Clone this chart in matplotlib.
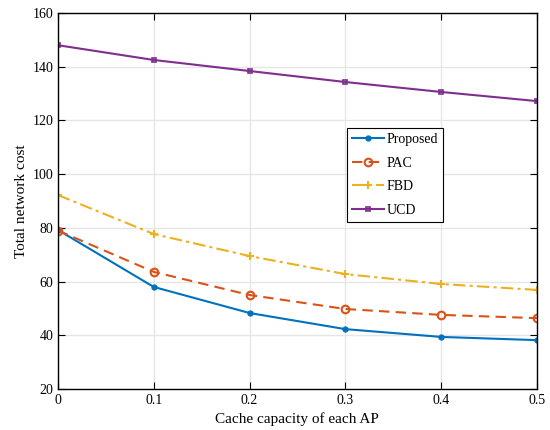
import matplotlib.pyplot as plt

plt.rcParams['font.family'] = ['Liberation Serif', 'DejaVu Serif']
plt.rcParams['mathtext.fontset'] = 'stix'

# Data
cache = [0, 0.1, 0.2, 0.3, 0.4, 0.5]
proposed = [79.2, 58.0, 48.3, 42.3, 39.4, 38.2]
pac = [79.0, 63.6, 55.0, 49.8, 47.6, 46.4]
fbd = [92.2, 77.7, 69.5, 62.8, 59.1, 56.9]
ucd = [148.0, 142.5, 138.4, 134.3, 130.6, 127.2]

fig = plt.figure(figsize=(5.5, 4.3), dpi=100)
ax = fig.add_axes([0.1055, 0.0953, 0.8705, 0.8745])

ax.plot(cache, proposed, color='#0072BD', lw=1.5, marker='o', ms=3.5,
        label='Proposed')
ax.plot(cache, pac, color='#D95319', lw=1.5, ls=(0, (5, 3)), marker='o', ms=5.5,
        mfc='none', mew=1.5, label='PAC')
ax.plot(cache, fbd, color='#EDB120', lw=1.5, ls=(0, (6, 2, 1.5, 2)),
        marker='+', ms=6, mew=1.5, label='FBD')
ax.plot(cache, ucd, color='#7E2F8E', lw=1.5, marker='s', ms=3.5, mfc='none',
        mew=1.2, label='UCD')

ax.set_xlim(0, 0.5)
ax.set_ylim(20, 160)
ax.set_xticks(cache)
ax.set_xticklabels(['0', '0.1', '0.2', '0.3', '0.4', '0.5'])
ax.set_yticks(range(20, 161, 20))
ax.grid(True, color='#e6e6e6', lw=1)
ax.set_axisbelow(True)
ax.tick_params(direction='in', top=True, right=True, labelsize=10, length=5)
for s in ax.spines.values():
    s.set_linewidth(1.0)

ax.set_xlabel('Cache capacity of each AP', fontsize=11, labelpad=4)
ax.set_ylabel('Total network cost', fontsize=11, labelpad=3)

leg = ax.legend(loc='lower left', bbox_to_anchor=(0.603, 0.444), fontsize=10,
                fancybox=False, framealpha=1, edgecolor='black',
                handlelength=2.3, borderpad=0.4, labelspacing=0.75,
                handletextpad=0.15, borderaxespad=0)
leg.get_frame().set_linewidth(0.8)

fig.savefig('out.png', dpi=100)
